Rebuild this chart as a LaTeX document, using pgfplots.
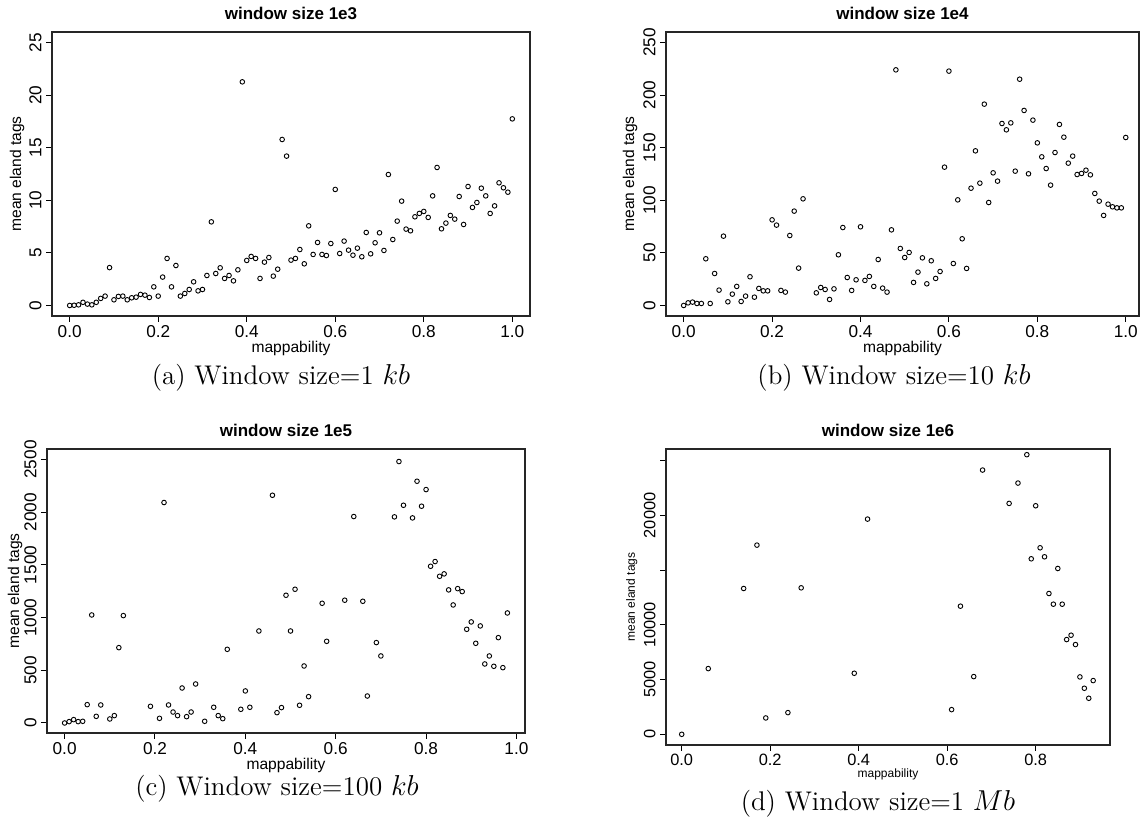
\documentclass[border=0pt]{standalone}
\usepackage{pgfplots}
\pgfplotsset{compat=1.18}
\usepackage{fontspec}
\newfontfamily\arialfont{Liberation Sans}

\pgfplotstableread{
x y
0.00 0
0.01 0.02
0.02 0.06
0.03 0.3
0.04 0.13
0.05 0.06
0.06 0.3
0.07 0.67
0.08 0.89
0.09 3.6
0.10 0.54
0.11 0.86
0.12 0.89
0.13 0.54
0.14 0.73
0.15 0.79
0.16 1.05
0.17 0.98
0.18 0.76
0.19 1.77
0.20 0.89
0.21 2.7
0.22 4.47
0.23 1.77
0.24 3.8
0.25 0.89
0.26 1.14
0.27 1.52
0.28 2.25
0.29 1.39
0.30 1.52
0.31 2.85
0.32 7.95
0.33 3.04
0.34 3.58
0.35 2.57
0.36 2.85
0.37 2.34
0.38 3.39
0.39 21.26
0.40 4.28
0.41 4.66
0.42 4.47
0.43 2.57
0.44 4.12
0.45 4.56
0.46 2.79
0.47 3.45
0.48 15.78
0.49 14.2
0.50 4.31
0.51 4.47
0.52 5.32
0.53 3.96
0.54 7.57
0.55 4.85
0.56 5.99
0.57 4.85
0.58 4.75
0.59 5.89
0.60 11.03
0.61 4.94
0.62 6.12
0.63 5.26
0.64 4.78
0.65 5.45
0.66 4.63
0.67 6.94
0.68 4.91
0.69 5.96
0.70 6.91
0.71 5.23
0.72 12.45
0.73 6.27
0.74 8.02
0.75 9.92
0.76 7.26
0.77 7.1
0.78 8.43
0.79 8.75
0.80 8.94
0.81 8.37
0.82 10.42
0.83 13.12
0.84 7.29
0.85 7.83
0.86 8.56
0.87 8.21
0.88 10.36
0.89 7.7
0.90 11.31
0.91 9.32
0.92 9.79
0.93 11.15
0.94 10.42
0.95 8.75
0.96 9.47
0.97 11.66
0.98 11.19
0.99 10.77
1.00 17.74
}\dataA

\pgfplotstableread{
x y
0.00 0
0.01 2.5
0.02 3.2
0.03 1.9
0.04 1.9
0.05 44.4
0.06 1.9
0.07 30.4
0.08 14.6
0.09 65.9
0.10 3.5
0.11 10.8
0.12 18.1
0.13 3.8
0.14 8.9
0.15 27.3
0.16 7.9
0.17 16.2
0.18 13.9
0.19 13.9
0.20 81.4
0.21 76.4
0.22 14.3
0.23 12.7
0.24 66.5
0.25 89.7
0.26 35.5
0.27 101.4
0.30 12.0
0.31 17.1
0.32 15.2
0.33 5.7
0.34 15.8
0.35 48.2
0.36 74.1
0.37 26.6
0.38 14.3
0.39 24.4
0.40 74.8
0.41 23.8
0.42 27.6
0.43 18.1
0.44 43.7
0.45 16.5
0.46 12.7
0.47 71.9
0.48 224.0
0.49 54.2
0.50 45.6
0.51 50.4
0.52 21.9
0.53 31.7
0.54 45.3
0.55 20.6
0.56 42.5
0.57 25.7
0.58 32.3
0.59 131.5
0.60 222.8
0.61 39.9
0.62 100.4
0.63 63.4
0.64 35.2
0.65 111.5
0.66 147.0
0.67 116.3
0.68 191.4
0.69 97.9
0.70 126.1
0.71 118.2
0.72 173.0
0.73 167.0
0.74 173.6
0.75 127.7
0.76 215.1
0.77 185.4
0.78 125.2
0.79 176.2
0.80 154.6
0.81 141.3
0.82 130.2
0.83 114.4
0.84 145.4
0.85 172.1
0.86 160.0
0.87 135.3
0.88 142.0
0.89 124.5
0.90 125.5
0.91 128.6
0.92 124.2
0.93 106.5
0.94 99.2
0.95 85.6
0.96 96.3
0.97 93.8
0.98 92.8
0.99 92.8
1.00 159.7
}\dataB

\pgfplotstableread{
x y
0.00 0
0.01 13
0.02 32
0.03 13
0.04 16
0.05 174
0.06 1025
0.07 63
0.08 171
0.10 38
0.11 70
0.12 715
0.13 1019
0.19 158
0.21 44
0.22 2092
0.23 171
0.24 104
0.25 70
0.26 332
0.27 60
0.28 104
0.29 370
0.31 16
0.33 149
0.34 70
0.35 41
0.36 699
0.39 130
0.40 304
0.41 149
0.43 873
0.46 2161
0.47 98
0.48 146
0.49 1212
0.50 873
0.51 1269
0.52 168
0.53 541
0.54 250
0.57 1136
0.58 775
0.62 1165
0.64 1959
0.66 1155
0.67 256
0.69 763
0.70 636
0.73 1956
0.74 2481
0.75 2066
0.77 1946
0.78 2294
0.79 2057
0.80 2215
0.81 1487
0.82 1532
0.83 1392
0.84 1415
0.85 1263
0.86 1120
0.87 1275
0.88 1247
0.89 889
0.90 959
0.91 756
0.92 921
0.93 560
0.94 636
0.95 538
0.96 810
0.97 525
0.98 1044
}\dataC

\pgfplotstableread{
x y
0.00 0
0.06 6006
0.14 13323
0.17 17287
0.19 1494
0.24 1982
0.27 13384
0.39 5579
0.42 19665
0.61 2256
0.63 11707
0.66 5274
0.68 24146
0.74 21098
0.76 22957
0.78 25549
0.79 16037
0.80 20884
0.81 17043
0.82 16220
0.83 12866
0.84 11890
0.85 15152
0.86 11890
0.87 8659
0.88 9055
0.89 8201
0.90 5244
0.91 4207
0.92 3293
0.93 4909
}\dataD

\pgfplotsset{
  rstyle/.style={
    scale only axis,
    axis line style={line width=0.65pt, black!85},
    tick align=outside,
    tick pos=left,
    major tick length=3pt,
    tick style={line width=0.5pt, black},
    scaled ticks=false,
    /pgf/number format/1000 sep={},
    /pgf/number format/assume math mode=true,
    every tick label/.append style={font=\arialfont\fontsize{8.6}{10}\selectfont, text=black},
    yticklabel style={rotate=90, anchor=south, inner sep=2pt},
    xticklabel style={anchor=north, inner sep=1.5pt, /pgf/number format/.cd, fixed, fixed zerofill, precision=1},
    label style={font=\arialfont\fontsize{7.8}{9}\selectfont},
    title style={font=\arialfont\bfseries\fontsize{8.5}{10}\selectfont, at={(axis description cs:0.5,1)}, anchor=center, yshift=3.5pt},
    xlabel style={at={(axis description cs:0.5,0)}, anchor=center, yshift=-16pt},
    xlabel={mappability},
    ylabel={mean eland tags},
  },
  rplot/.style={only marks, mark=o, mark size=1.15pt, black, mark options={line width=0.45pt}},
}

\begin{document}
\begin{tikzpicture}
\path[use as bounding box] (0,0) rectangle (570pt,414pt);

% (a)
\begin{axis}[rstyle, at={(26pt,256pt)}, anchor=south west,
  width=239pt, height=142pt,
  xmin=-0.04, xmax=1.04, ymin=-1, ymax=26,
  xtick={0,0.2,...,1.0}, ytick={0,5,...,25},
  ylabel style={at={(axis description cs:-0.073,0.5)}, anchor=center},
  title={window size 1e3}]
\addplot[rplot] table[x=x,y=y] {\dataA};
\end{axis}

% (b)
\begin{axis}[rstyle, at={(333pt,256pt)}, anchor=south west,
  width=236.5pt, height=142pt,
  xmin=-0.04, xmax=1.03, ymin=-10, ymax=260,
  xtick={0,0.2,...,1.0}, ytick={0,50,...,250},
  ylabel style={at={(axis description cs:-0.076,0.5)}, anchor=center},
  title={window size 1e4}]
\addplot[rplot] table[x=x,y=y] {\dataB};
\end{axis}

% (c)
\begin{axis}[rstyle, at={(23.5pt,47.5pt)}, anchor=south west,
  width=239pt, height=142pt,
  xmin=-0.039, xmax=1.019, ymin=-95, ymax=2600,
  xtick={0,0.2,...,1.0}, ytick={0,500,...,2500},
  ylabel style={at={(axis description cs:-0.067,0.5)}, anchor=center},
  title={window size 1e5}]
\addplot[rplot] table[x=x,y=y] {\dataC};
\end{axis}

% (d)
\begin{axis}[rstyle, at={(333pt,41.5pt)}, anchor=south west,
  width=222pt, height=148pt,
  xmin=-0.0355, xmax=0.968, ymin=-976, ymax=26070,
  xtick={0,0.2,0.4,0.6,0.8}, ytick={0,5000,...,25000},
  yticklabels={0,5000,10000,,20000,},
  every tick label/.append style={font=\arialfont\fontsize{8.2}{10}\selectfont},
  label style={font=\arialfont\fontsize{6}{7}\selectfont},
  ylabel style={at={(axis description cs:-0.077,0.5)}, anchor=center},
  xlabel style={yshift=1.5pt},
  title={window size 1e6}]
\addplot[rplot] table[x=x,y=y] {\dataD};
\end{axis}

% sub-captions
\node[font=\fontsize{13.5}{16}\selectfont] at (140.5pt,225pt) {(a) Window size=1 $kb$};
\node[font=\fontsize{13.5}{16}\selectfont] at (447pt,225pt) {(b) Window size=10 $kb$};
\node[font=\fontsize{13.5}{16}\selectfont] at (138.5pt,19.5pt) {(c) Window size=100 $kb$};
\node[font=\fontsize{13.5}{16}\selectfont] at (439pt,12pt) {(d) Window size=1 $Mb$};
\end{tikzpicture}
\end{document}
